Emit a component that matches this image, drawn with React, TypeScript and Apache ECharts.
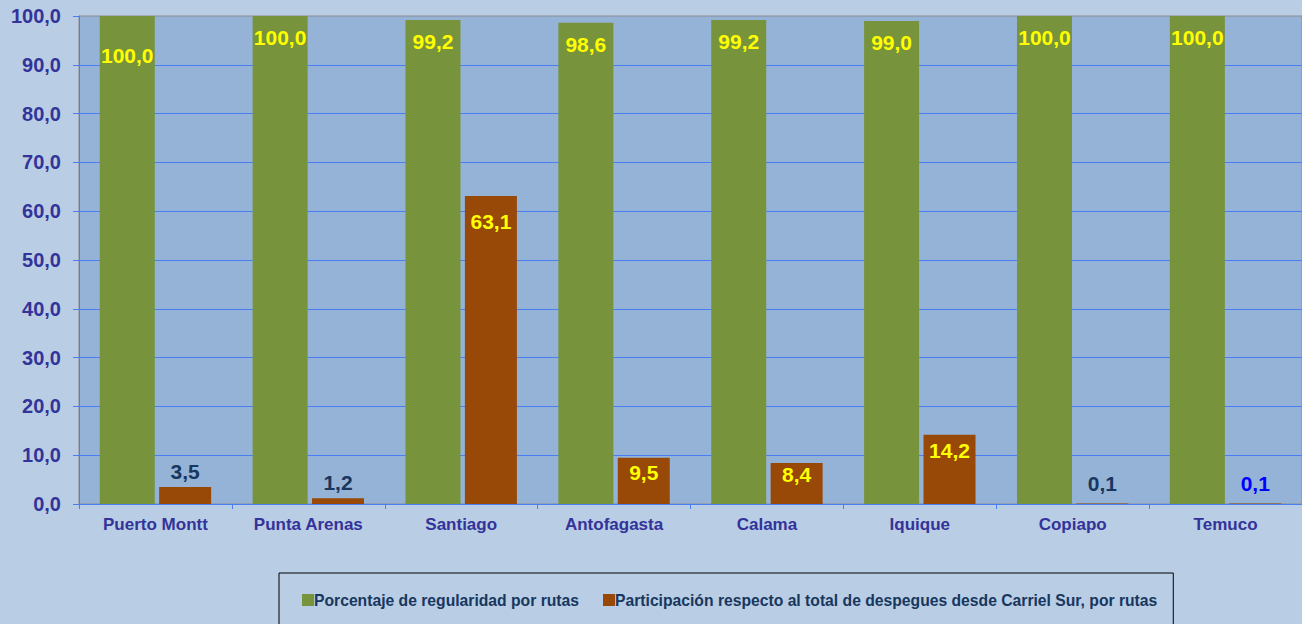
import React, { useEffect, useRef } from "react";
import * as echarts from "echarts";

const categories = [
  "Puerto Montt",
  "Punta Arenas",
  "Santiago",
  "Antofagasta",
  "Calama",
  "Iquique",
  "Copiapo",
  "Temuco",
];
const regularidad = [100.0, 100.0, 99.2, 98.6, 99.2, 99.0, 100.0, 100.0];
const participacion = [3.5, 1.2, 63.1, 9.5, 8.4, 14.2, 0.1, 0.1];
const seriesNames = [
  "Porcentaje de regularidad por rutas",
  "Participación respecto al total de despegues desde Carriel Sur, por rutas",
];

const FONT = 'Arial, "Liberation Sans", sans-serif';
const YELLOW = "#ffff00";
const DARK = "#17375e";
const AXIS_TEXT = "#333399";
const GRID_BLUE = "#4a7ef5";

const fmt = (v: number) => v.toFixed(1).replace(".", ",");

const greenLabelDist = [29, 11, 11, 11, 11, 11, 11, 11];
const orangeLabelStyles = [
  { position: "top", distance: 5, color: DARK },
  { position: "top", distance: 5, color: DARK },
  { position: "insideTop", distance: 15, color: YELLOW },
  { position: "insideTop", distance: 4, color: YELLOW },
  { position: "insideTop", distance: 1, color: YELLOW },
  { position: "insideTop", distance: 5, color: YELLOW },
  { position: "top", distance: 10, color: DARK },
  { position: "top", distance: 10, color: "#0000ff" },
];

export default function App() {
  const ref = useRef<HTMLDivElement>(null);
  useEffect(() => {
    if (!ref.current) return;
    const chart = echarts.init(ref.current, null, { renderer: "svg" });
    const labelBase = {
      show: true,
      fontFamily: FONT,
      fontWeight: "bold",
      fontSize: 21,
      formatter: (p: any) => fmt(p.value),
    };
    chart.setOption({
      animation: false,
      backgroundColor: "#b9cde5",
      grid: {
        left: 79,
        top: 16,
        right: 0,
        bottom: 120,
        show: true,
        backgroundColor: "#95b3d7",
        borderColor: "#8c8c8c",
        borderWidth: 1,
      },
      legend: {
        left: 279,
        top: 573,
        padding: [19, 16, 40, 23],
        borderColor: "#000000",
        borderWidth: 1,
        itemWidth: 12,
        itemHeight: 12,
        itemGap: 24,
        icon: "rect",
        textStyle: {
          fontFamily: FONT,
          fontWeight: "bold",
          fontSize: 15.7,
          color: DARK,
          padding: [0, 0, 0, -5],
        },
        data: seriesNames,
      },
      xAxis: {
        type: "category",
        data: categories,
        axisLine: { show: true, lineStyle: { color: GRID_BLUE, width: 1 } },
        axisTick: { show: true, length: 5, lineStyle: { color: GRID_BLUE } },
        axisLabel: {
          margin: 12,
          fontFamily: FONT,
          fontWeight: "bold",
          fontSize: 17,
          color: AXIS_TEXT,
        },
      },
      yAxis: {
        type: "value",
        min: 0,
        max: 100,
        interval: 10,
        axisLine: { show: true, lineStyle: { color: GRID_BLUE, width: 1 } },
        axisTick: { show: true, length: 6, lineStyle: { color: GRID_BLUE } },
        splitLine: {
          show: true,
          showMaxLine: false,
          lineStyle: { color: GRID_BLUE, width: 1 },
        },
        axisLabel: {
          margin: 18,
          fontFamily: FONT,
          fontWeight: "bold",
          fontSize: 20,
          color: AXIS_TEXT,
          formatter: (v: number) => fmt(v),
        },
      },
      series: [
        {
          name: seriesNames[0],
          type: "bar",
          barWidth: 55,
          barGap: "8%",
          itemStyle: { color: "#77933c" },
          label: { ...labelBase, position: "insideTop", color: YELLOW },
          data: regularidad.map((v, i) => ({
            value: v,
            label: { distance: greenLabelDist[i] },
          })),
        },
        {
          name: seriesNames[1],
          type: "bar",
          barWidth: 52,
          itemStyle: { color: "#984807" },
          label: { ...labelBase },
          data: participacion.map((v, i) => ({
            value: v,
            label: { ...orangeLabelStyles[i] },
          })),
        },
      ],
    });
    return () => chart.dispose();
  }, []);
  return (
    <div
      ref={ref}
      style={{ position: "fixed", left: 0, top: 0, width: 1302, height: 624 }}
    />
  );
}
